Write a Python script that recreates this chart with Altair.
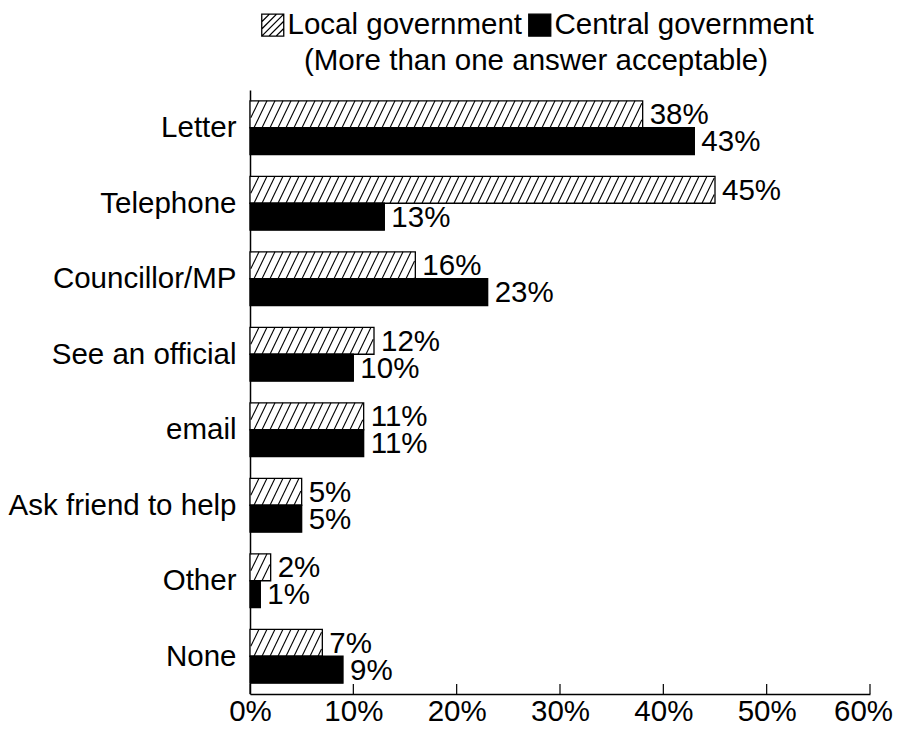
import json
import altair as alt
import pandas as pd

# ---- data ----
categories = ["Letter", "Telephone", "Councillor/MP", "See an official",
              "email", "Ask friend to help", "Other", "None"]
local_pct = [38, 45, 16, 12, 11, 5, 2, 7]
central_pct = [43, 13, 23, 10, 11, 5, 1, 9]
series = ["Local government", "Central government"]
tick_values = [0, 10, 20, 30, 40, 50, 60]
legend_title = "(More than one answer acceptable)"

# ---- layout constants ----
W = 620          # plot width (px)
H = 604          # plot height (px)
XMAX = 60
K = W / XMAX     # px per percent
U = H / len(categories)  # px per category unit
BAR = 0.357      # bar thickness in category units
BH = BAR * U     # bar thickness px
HS = 13.0        # horizontal span of a hatch line (px)
S = 8.0          # hatch spacing (px)
FS = 29.5
FONT = "Liberation Sans"

rows = []
for i, c in enumerate(categories):
    rows.append({"category": c, "idx": i, "series": series[0], "value": local_pct[i]})
    rows.append({"category": c, "idx": i, "series": series[1], "value": central_pct[i]})
df = pd.DataFrame(rows)

base = alt.Chart(df).transform_calculate(
    y0=f"datum.series === '{series[0]}' ? datum.idx + 0.5 - {BAR} : datum.idx + 0.5",
    y1=f"datum.series === '{series[0]}' ? datum.idx + 0.5 : datum.idx + 0.5 + {BAR}",
    ym="(datum.y0 + datum.y1) / 2",
    label="datum.value + '%'",
)

xscale = alt.Scale(domain=[0, XMAX], nice=False, zero=True)
yscale = alt.Scale(domain=[0, len(categories)], reverse=True, nice=False, zero=False)

label_expr = json.dumps(categories) + "[floor(datum.value)]"

xaxis = alt.Axis(values=tick_values, labelExpr="datum.value + '%'", ticks=False,
                 grid=False, domainColor="black", domainWidth=1.5,
                 labelFontSize=FS, labelPadding=3, labelColor="black", title=None,
                 labelFont=FONT, labelFlush=False, labelOverlap=False, labelBound=False,
                 labelOffset={"condition": {"test": f"datum.value === {XMAX}", "value": -7},
                              "value": 0})
yaxis = alt.Axis(values=[i + 0.5 for i in range(len(categories))], labelExpr=label_expr,
                 ticks=False, grid=False, domainColor="black", domainWidth=1.5,
                 labelFontSize=FS, labelPadding=14, labelColor="black", title=None,
                 labelFont=FONT, labelAlign="right", labelBaseline="middle",
                 labelLimit=400, labelOverlap=False)

fill_scale = alt.Scale(domain=series, range=["white", "black"])

sq = "M-1,-1H1V1H-1Z"
hatch_path = sq
for c in [-1.3, -0.65, 0.0, 0.65, 1.3]:
    if c <= 0:
        hatch_path += f"M-1,{c + 1:.2f}L{c + 1:.2f},-1"
    else:
        hatch_path += f"M{c - 1:.2f},1L1,{c - 1:.2f}"

legend = alt.Legend(orient="none", legendX=8, legendY=-80,
                    direction="horizontal", titleOrient="bottom",
                    titleAnchor="middle", labelLimit=400, titleLimit=800)

bars = base.mark_rect(stroke="black", strokeWidth=1.3).encode(
    x=alt.X("value:Q", scale=xscale, axis=xaxis),
    x2=alt.datum(0),
    y=alt.Y("y0:Q", scale=yscale, axis=yaxis),
    y2="y1:Q",
    fill=alt.Fill("series:N", scale=fill_scale, title=legend_title, legend=legend),
)

# hatch lines for the local-government bars
hatch = alt.Chart(df).transform_filter(
    f"datum.series === '{series[0]}'"
).transform_calculate(
    w=f"datum.value * {K}",
).transform_calculate(
    js=f"sequence(0, ceil((datum.w + {HS}) / {S}) + 1)"
).transform_flatten(
    ["js"], as_=["j"]
).transform_calculate(
    xb=f"datum.j * {S} - {HS} + 1",
).transform_calculate(
    xa="max(datum.xb, 0.8)",
    xz=f"min(datum.xb + {HS}, datum.w - 0.8)",
).transform_filter(
    "datum.xz > datum.xa"
).transform_calculate(
    hx0=f"datum.xa / {K}",
    hx1=f"datum.xz / {K}",
    hy0=f"datum.idx + 0.5 - (datum.xa - datum.xb) * {BH / HS} / {U}",
    hy1=f"datum.idx + 0.5 - (datum.xz - datum.xb) * {BH / HS} / {U}",
).mark_rule(color="black", strokeWidth=1.1).encode(
    x=alt.X("hx0:Q", scale=xscale),
    x2="hx1:Q",
    y=alt.Y("hy0:Q", scale=yscale),
    y2="hy1:Q",
)

labels = base.mark_text(align="left", baseline="middle", dx=7, dy=1, fontSize=FS,
                        font=FONT, color="black").encode(
    x=alt.X("value:Q", scale=xscale),
    y=alt.Y("ym:Q", scale=yscale),
    text="label:N",
)

# inward x-axis ticks
ticks = alt.Chart(pd.DataFrame({"t": tick_values})).mark_rule(
    color="black", strokeWidth=1.2
).encode(
    x=alt.X("t:Q", scale=xscale),
    y=alt.value(H),
    y2=alt.value(H - 10),
)

# legend symbols (hatched square / solid square)
legend_layer = alt.Chart(df).transform_filter("false").mark_point(
    filled=True, opacity=1
).encode(
    fill=alt.Fill("series:N", scale=fill_scale, title=legend_title, legend=legend),
    shape=alt.Shape("series:N", scale=alt.Scale(domain=series, range=[hatch_path, sq]),
                    title=legend_title, legend=legend),
)

chart = alt.layer(bars, hatch, labels, ticks, legend_layer).properties(
    width=W, height=H
).configure(
    font=FONT,
    padding={"left": 0, "top": 2, "right": 0, "bottom": 0},
).configure_view(
    strokeWidth=0
).configure_legend(
    labelFontSize=FS, titleFontSize=FS, titleFontWeight="normal",
    labelFont=FONT, titleFont=FONT, labelColor="black", titleColor="black",
    symbolSize=484, symbolStrokeColor="black", symbolStrokeWidth=1.3,
    labelOffset=0, columnPadding=2, padding=0, titlePadding=7,
    symbolOffset=0,
)

chart.save("out.html", embed_options={"renderer": "svg", "actions": False})
